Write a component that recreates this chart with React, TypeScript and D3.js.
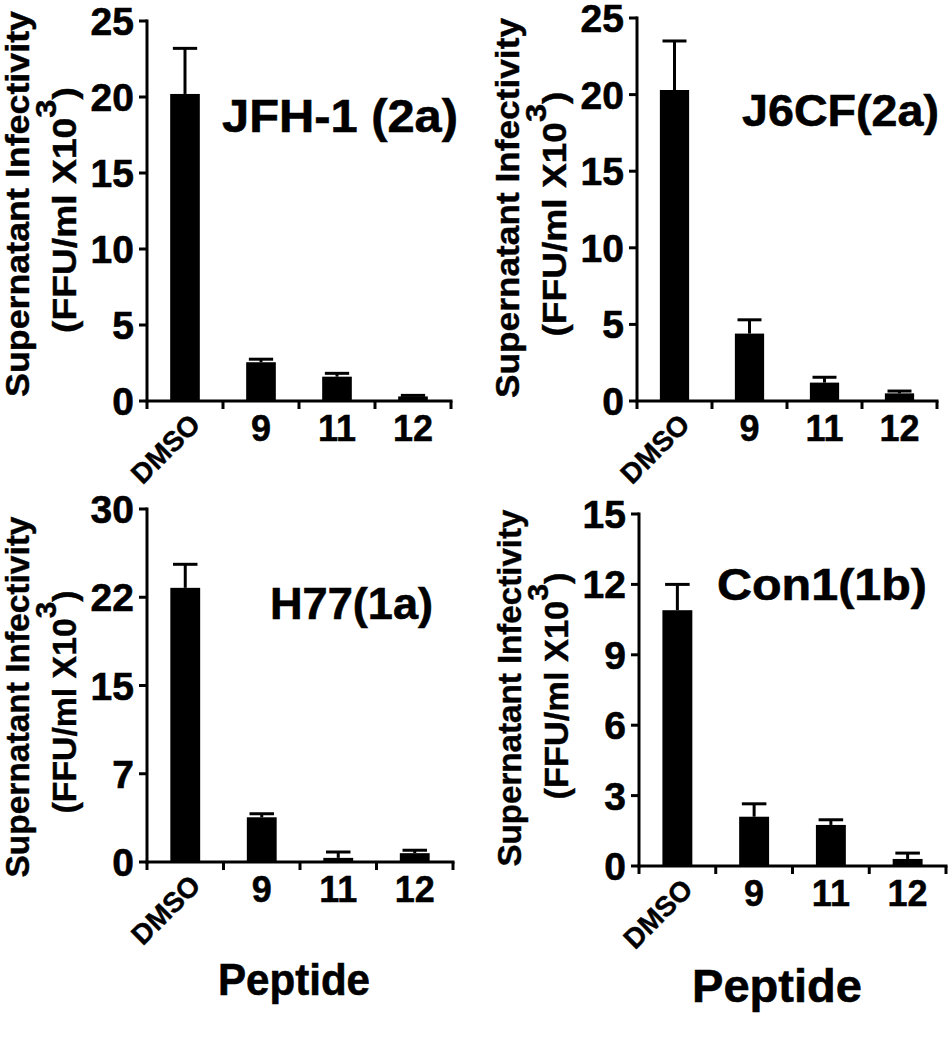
import React from 'react';
import * as d3 from 'd3';

// Peptide treatments on the x axis
const categories = ['DMSO', '9', '11', '12'];

// Mean supernatant infectivity (FFU/ml x10^3) and SEM per virus strain
const jfhMeans = [20.2, 2.55, 1.6, 0.3];
const jfhSem = [3.0, 0.2, 0.22, 0.07];
const j6Means = [20.3, 4.4, 1.2, 0.5];
const j6Sem = [3.2, 0.9, 0.35, 0.15];
const h77Means = [23.3, 3.8, 0.35, 0.75];
const h77Sem = [2.0, 0.3, 0.5, 0.25];
const con1Means = [10.9, 2.1, 1.75, 0.3];
const con1Sem = [1.1, 0.55, 0.22, 0.25];

// Y tick values and their printed labels
const ticks25 = [0, 5, 10, 15, 20, 25];
const ticks25Labels = ['0', '5', '10', '15', '20', '25'];
const ticks30 = [0, 7.5, 15, 22.5, 30];
const ticks30Labels = ['0', '7', '15', '22', '30'];
const ticks15 = [0, 3, 6, 9, 12, 15];
const ticks15Labels = ['0', '3', '6', '9', '12', '15'];

const titles = ['JFH-1 (2a)', 'J6CF(2a)', 'H77(1a)', 'Con1(1b)'];

const FONT = '"Liberation Sans", Arial, Helvetica, sans-serif';

type Layout = {
  x0: number; x1: number; yTop: number; yBot: number;
  c1: number; len1: number; c2: number; len2: number;
  tx: number; ty: number; tSize: number; tLen: number;
  peptide?: { cx: number; y: number; size: number; len: number };
};

const panels = [
  { title: titles[0], means: jfhMeans, sem: jfhSem, max: 25, ticks: ticks25, labels: ticks25Labels,
    lay: { x0: 147, x1: 451, yTop: 21, yBot: 401, c1: 204, len1: 386, c2: 210, len2: 246, tx: 222, ty: 132, tSize: 47, tLen: 236 } },
  { title: titles[1], means: j6Means, sem: j6Sem, max: 25, ticks: ticks25, labels: ticks25Labels,
    lay: { x0: 637, x1: 937, yTop: 18, yBot: 401, c1: 208, len1: 380, c2: 214, len2: 245, tx: 742, ty: 126, tSize: 45, tLen: 197 } },
  { title: titles[2], means: h77Means, sem: h77Sem, max: 30, ticks: ticks30, labels: ticks30Labels,
    lay: { x0: 147, x1: 453, yTop: 509, yBot: 862, c1: 697, len1: 361, c2: 702, len2: 223, tx: 270, ty: 619, tSize: 44, tLen: 163,
      peptide: { cx: 294, y: 995, size: 44, len: 152 } } },
  { title: titles[3], means: con1Means, sem: con1Sem, max: 15, ticks: ticks15, labels: ticks15Labels,
    lay: { x0: 639, x1: 946, yTop: 514, yBot: 866, c1: 688, len1: 357, c2: 686, len2: 227, tx: 717, ty: 600, tSize: 45, tLen: 210,
      peptide: { cx: 777, y: 1002, size: 47, len: 170 } } },
];

const Panel = ({ title, means, sem, max, ticks, labels, lay }:
  { title: string; means: number[]; sem: number[]; max: number; ticks: number[]; labels: string[]; lay: Layout }) => {
  const x = d3.scaleBand().domain(categories).range([lay.x0, lay.x1]);
  const y = d3.scaleLinear().domain([0, max]).range([lay.yBot, lay.yTop]);
  const bw = x.bandwidth() * 0.39;
  const capW = bw * 0.82;
  const edges = d3.range(categories.length + 1).map(i => lay.x0 + i * x.bandwidth());

  return (
    <g fontFamily={FONT} fontWeight="bold" fill="#000">
      {/* bars */}
      {categories.map((c, i) => {
        const cx = x(c)! + x.bandwidth() / 2;
        return (
          <rect key={c} x={cx - bw / 2} y={y(means[i])} width={bw} height={y(0) - y(means[i])} fill="#000" />
        );
      })}
      {/* error bars (upper only) */}
      {categories.map((c, i) => {
        const cx = x(c)! + x.bandwidth() / 2;
        const top = y(means[i] + sem[i]);
        return (
          <g key={'e' + c} stroke="#000" strokeWidth={3}>
            <line x1={cx} x2={cx} y1={y(means[i])} y2={top} />
            <line x1={cx - capW / 2} x2={cx + capW / 2} y1={top} y2={top} />
          </g>
        );
      })}
      {/* y axis */}
      <line x1={lay.x0} x2={lay.x0} y1={lay.yTop - 1.5} y2={lay.yBot + 1.5} stroke="#000" strokeWidth={3} />
      {ticks.map((t, i) => (
        <g key={'yt' + t}>
          <line x1={lay.x0 - 8} x2={lay.x0} y1={y(t)} y2={y(t)} stroke="#000" strokeWidth={3} />
          <text x={lay.x0 - 13} y={y(t)} dy="0.36em" textAnchor="end" fontSize={39}
            stroke="#000" strokeWidth={0.6}>{labels[i]}</text>
        </g>
      ))}
      {/* x axis */}
      <line x1={lay.x0 - 1.5} x2={lay.x1 + 1.5} y1={lay.yBot} y2={lay.yBot} stroke="#000" strokeWidth={3} />
      {edges.map((ex, i) => (
        <line key={'xt' + i} x1={ex} x2={ex} y1={lay.yBot} y2={lay.yBot + 8} stroke="#000" strokeWidth={3} />
      ))}
      {categories.map(c => {
        const cx = x(c)! + x.bandwidth() / 2;
        if (c === 'DMSO') {
          return (
            <text key={'xl' + c} transform={`translate(${cx + 17},${lay.yBot + 25}) rotate(-45)`}
              textAnchor="end" fontSize={28} stroke="#000" strokeWidth={0.4}>{c}</text>
          );
        }
        return (
          <text key={'xl' + c} x={cx} y={lay.yBot + 40} textAnchor="middle" fontSize={36}
            stroke="#000" strokeWidth={0.5}>{c}</text>
        );
      })}
      {/* y axis title, two lines */}
      <text transform={`translate(${lay.x0 - 118},${lay.c1}) rotate(-90)`} textAnchor="middle" fontSize={33}
        textLength={lay.len1} lengthAdjust="spacingAndGlyphs" stroke="#000" strokeWidth={0.4}>Supernatant Infectivity</text>
      <text transform={`translate(${lay.x0 - 71},${lay.c2}) rotate(-90)`} textAnchor="middle" fontSize={33}
        textLength={lay.len2} lengthAdjust="spacingAndGlyphs" stroke="#000" strokeWidth={0.4}>
        (FFU/ml X10<tspan dy={-20} fontSize={29}>3</tspan><tspan dy={20}>)</tspan>
      </text>
      {/* strain title */}
      <text x={lay.tx} y={lay.ty} fontSize={lay.tSize} textLength={lay.tLen} lengthAdjust="spacingAndGlyphs"
        stroke="#000" strokeWidth={0.6}>{title}</text>
      {lay.peptide && (
        <text x={lay.peptide.cx} y={lay.peptide.y} textAnchor="middle" fontSize={lay.peptide.size}
          textLength={lay.peptide.len} lengthAdjust="spacingAndGlyphs" stroke="#000" strokeWidth={0.6}>Peptide</text>
      )}
    </g>
  );
};

export default function App() {
  return (
    <svg width={948} height={1050} style={{ position: 'absolute', left: 0, top: 0, background: '#fff' }}>
      <rect width={948} height={1050} fill="#fff" />
      {panels.map(p => (
        <Panel key={p.title} {...p} />
      ))}
    </svg>
  );
}
